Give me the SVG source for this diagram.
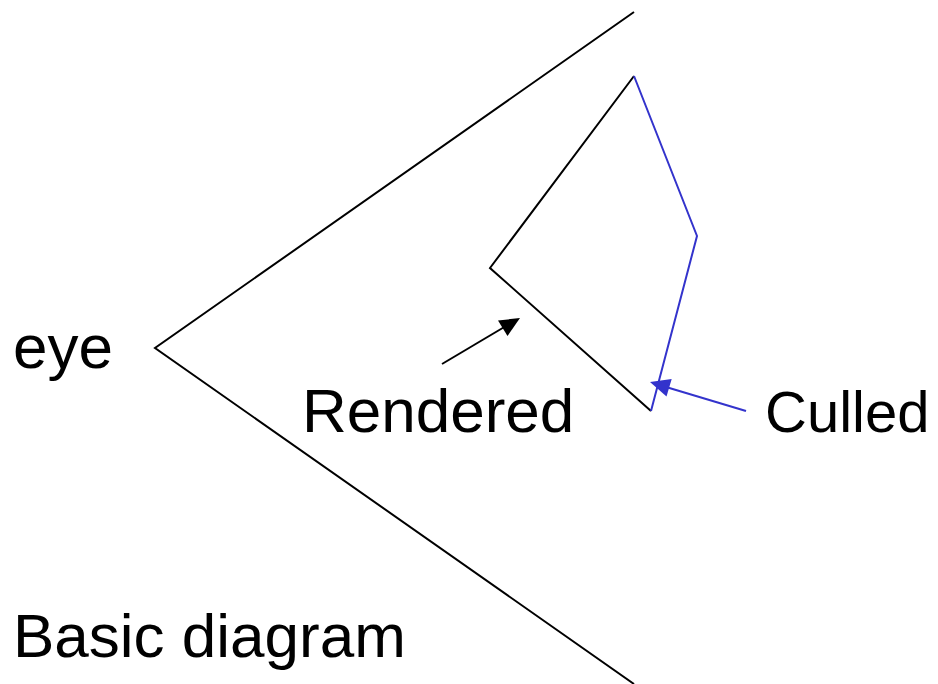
<svg xmlns="http://www.w3.org/2000/svg" width="938" height="684" viewBox="0 0 938 684">
  <style>
    .lbl { font-family: "Liberation Sans", Arial, sans-serif; font-size: 62px; fill: #000; }
    .blk { stroke: #000; stroke-width: 2; fill: none; }
    .blu { stroke: #3333cc; stroke-width: 2; fill: none; }
  </style>
  <rect width="938" height="684" fill="#fff"/>

  <!-- view frustum from the eye -->
  <g id="frustum">
    <polyline class="blk" points="634,12 155,348 634,684"/>
  </g>

  <!-- polygon: front-facing edges in black, back-facing edges in blue -->
  <g id="polygon">
    <polyline class="blk" points="634,76 490,268 651,411"/>
    <polyline class="blu" points="634,76 697,236 651,411"/>
  </g>

  <g id="connectors">
    <line x1="442" y1="364" x2="506" y2="326" class="blk"/>
    <path d="M520,318 L498,320.5 L507.5,336 Z" fill="#000"/>
    <line x1="746" y1="411" x2="666" y2="387" class="blu"/>
    <path d="M650,382 L671.7,379 L666.5,396.5 Z" fill="#3333cc"/>
  </g>

  <g id="eye"><text class="lbl" x="13" y="368">eye</text></g>
  <g id="rendered"><text class="lbl" x="302" y="432">Rendered</text></g>
  <g id="culled"><text class="lbl" x="765" y="432" style="font-size:58px">Culled</text></g>
  <g id="caption"><text class="lbl" x="13" y="657">Basic diagram</text></g>
</svg>
